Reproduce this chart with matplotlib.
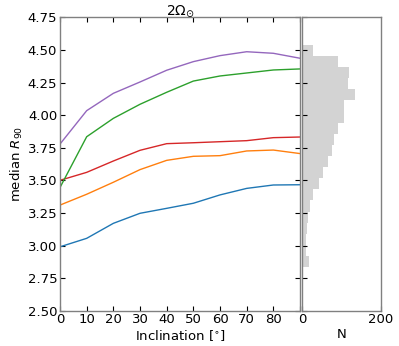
import numpy as np
import matplotlib
matplotlib.use('Agg')
import matplotlib.pyplot as plt

# inclination grid (deg)
incl = [0, 10, 20, 30, 40, 50, 60, 70, 80, 90]

# median R90 curves
r_blue = [2.99, 3.055, 3.17, 3.247, 3.285, 3.324, 3.388, 3.438, 3.464, 3.466]
r_orange = [3.31, 3.393, 3.485, 3.582, 3.653, 3.684, 3.689, 3.725, 3.732, 3.705]
r_red = [3.50, 3.561, 3.648, 3.73, 3.781, 3.788, 3.796, 3.804, 3.827, 3.832]
r_green = [3.445, 3.834, 3.975, 4.083, 4.175, 4.261, 4.30, 4.323, 4.346, 4.354]
r_purple = [3.778, 4.034, 4.167, 4.254, 4.344, 4.41, 4.456, 4.486, 4.474, 4.436]

# histogram of observed R90 (top bin first)
hist_lo = 2.835
hist_hi = 4.538
hist_counts = [28, 92, 119, 117, 134, 106, 106, 90, 81, 75,
               67, 52, 42, 29, 19, 14, 12, 10, 10, 17]

plt.rcParams['font.size'] = 9.5

fig = plt.figure(figsize=(3.99, 3.46), dpi=100)
ax = fig.add_axes([0.1504, 0.102, 0.6015, 0.848])
axh = fig.add_axes([0.7569, 0.102, 0.198, 0.848], sharey=ax)

for r, c in [(r_blue, 'C0'), (r_orange, 'C1'), (r_red, 'C3'),
             (r_green, 'C2'), (r_purple, 'C4')]:
    ax.plot(incl, r, color=c, lw=1.0)

ax.set_xlim(0, 90)
ax.set_ylim(2.5, 4.75)
ax.set_xticks([0, 10, 20, 30, 40, 50, 60, 70, 80, 90])
ax.set_xticklabels(['0', '10', '20', '30', '40', '50', '60', '70', '80', ''])
ax.set_yticks(np.arange(2.5, 4.76, 0.25))
ax.set_yticklabels(['%.2f' % v for v in np.arange(2.5, 4.76, 0.25)])
ax.tick_params(direction='in', top=True, right=True, length=3.5, width=0.8, pad=2)
ax.set_xlabel('Inclination [$^{\\circ}$]', labelpad=1)
ax.set_ylabel('median $R_{90}$', labelpad=2)
ax.set_title('$2\\Omega_{\\odot}$', fontsize=10, pad=2)

# histogram bars, drawn from bin edges
edges = np.linspace(hist_lo, hist_hi, len(hist_counts) + 1)
counts = hist_counts[::-1]
axh.barh(edges[:-1], counts, height=np.diff(edges), align='edge',
         color='lightgray', edgecolor='none')
axh.set_xlim(0, 200)
axh.set_xticks([0, 200])
axh.set_xlabel('N', labelpad=1)
axh.tick_params(direction='in', left=True, labelleft=False, length=3.5,
                width=0.8, pad=2)
plt.setp(axh.get_yticklabels(), visible=False)

for a in (ax, axh):
    for s in a.spines.values():
        s.set_color('gray')
        s.set_linewidth(1.0)

fig.savefig('out.png', dpi=100)
